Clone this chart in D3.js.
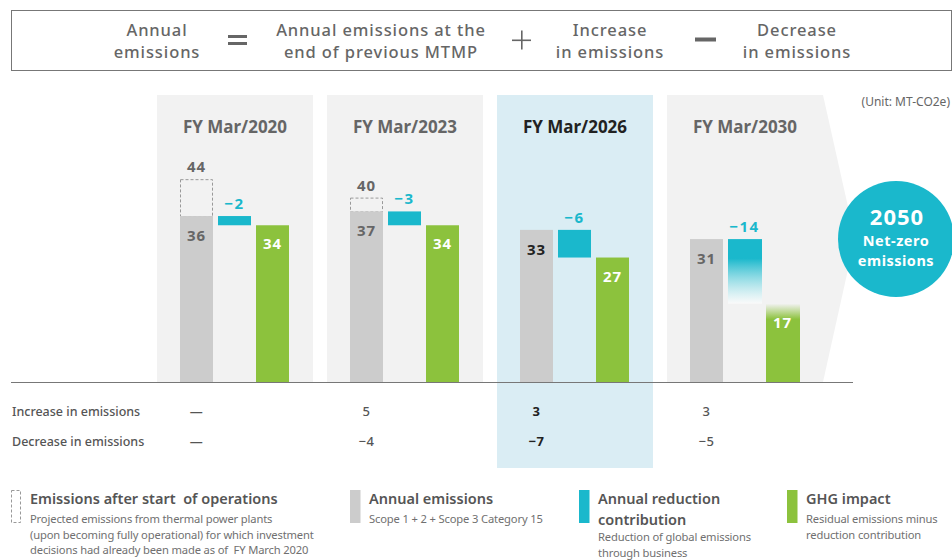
<!DOCTYPE html>
<html>
<head>
<meta charset="utf-8">
<script src="https://cdn.jsdelivr.net/npm/d3@7"></script>
<style>
  body { margin: 0; background: #fff; }
  svg { display: block; font-family: "Noto Sans", "Open Sans", sans-serif; }
</style>
</head>
<body>
<svg id="chart" width="952" height="560"></svg>
<script>
// data (MT-CO2e)
const periods = ["FY Mar/2020", "FY Mar/2023", "FY Mar/2026", "FY Mar/2030"];
const annualEmissions = [36, 37, 33, 31];
const afterStartEmissions = [44, 40, null, null];
const reductionContribution = [-2, -3, -6, -14];
const ghgImpact = [34, 34, 27, 17];
const increaseInEmissions = [null, 5, 3, 3];
const decreaseInEmissions = [null, -4, -7, -5];
const currentPeriod = "FY Mar/2026";

const formulaTerms = [
  ["Annual", "emissions"],
  ["Annual emissions at the", "end of previous MTMP"],
  ["Increase", "in emissions"],
  ["Decrease", "in emissions"]
];
const legendItems = [
  { key: "after", title: ["Emissions after start  of operations"],
    desc: ["Projected emissions from thermal power plants", "(upon becoming fully operational) for which investment", "decisions had already been made as of  FY March 2020"] },
  { key: "annual", title: ["Annual emissions"], desc: ["Scope 1 + 2 + Scope 3 Category 15"] },
  { key: "reduction", title: ["Annual reduction", "contribution"], desc: ["Reduction of global emissions", "through business"] },
  { key: "ghg", title: ["GHG impact"], desc: ["Residual emissions minus", "reduction contribution"] }
];

const GRAY = "#cccccc", TEAL = "#1ab8cc", GREEN = "#8cc23d", PANEL = "#f2f2f2", PANEL_CUR = "#daedf4";
const TXT = "#666", DARK = "#222";
const fmt = v => v == null ? "—" : (v < 0 ? "−" + Math.abs(v) : String(v));

const svg = d3.select("#chart");
const defs = svg.append("defs");

const baseY = 382, panelTop = 95;
const y = d3.scaleLinear().domain([0, 50]).range([baseY, baseY - 230.5]);
const x = d3.scaleBand().domain(periods).range([157, 823]).paddingInner(14 / 170).paddingOuter(0);
const xs = d3.scaleBand().domain(["annual", "reduction", "ghg"]).range([23, 132]).paddingInner(5 / 38).paddingOuter(0);
const bw = xs.bandwidth();

// gradients for the 2030 target
const gBlue = defs.append("linearGradient").attr("id", "fadeBlue").attr("x1", 0).attr("x2", 0).attr("y1", 0).attr("y2", 1);
gBlue.append("stop").attr("offset", "0%").attr("stop-color", TEAL);
gBlue.append("stop").attr("offset", "30%").attr("stop-color", TEAL);
gBlue.append("stop").attr("offset", "100%").attr("stop-color", "#fff").attr("stop-opacity", 0.6);
const gGreen = defs.append("linearGradient").attr("id", "fadeGreen").attr("x1", 0).attr("x2", 0).attr("y1", 0).attr("y2", 1);
gGreen.append("stop").attr("offset", "0%").attr("stop-color", GREEN).attr("stop-opacity", 0);
gGreen.append("stop").attr("offset", "20%").attr("stop-color", GREEN);
gGreen.append("stop").attr("offset", "100%").attr("stop-color", GREEN);

// formula box
svg.append("rect").attr("x", 11.5).attr("y", 10.5).attr("width", 940).attr("height", 60)
  .attr("fill", "none").attr("stroke", "#777").attr("stroke-width", 1);
const termX = [157, 381, 610, 797];
formulaTerms.forEach((lines, i) => {
  const t = svg.append("text").attr("text-anchor", "middle").attr("fill", TXT)
    .attr("font-size", 16.5).attr("font-weight", 500).attr("letter-spacing", 0.9);
  lines.forEach((l, j) => t.append("tspan").attr("x", termX[i]).attr("y", 36 + j * 21.5).text(l));
});
// operators
svg.append("rect").attr("x", 228).attr("y", 35).attr("width", 19).attr("height", 3).attr("fill", TXT);
svg.append("rect").attr("x", 228).attr("y", 42).attr("width", 19).attr("height", 3).attr("fill", TXT);
svg.append("rect").attr("x", 512).attr("y", 39.5).attr("width", 19).attr("height", 1.6).attr("fill", TXT);
svg.append("rect").attr("x", 521).attr("y", 30.5).attr("width", 1.6).attr("height", 19).attr("fill", TXT);
svg.append("rect").attr("x", 695).attr("y", 37.5).attr("width", 21).attr("height", 4).attr("fill", TXT);

// unit
svg.append("text").attr("x", 950).attr("y", 106).attr("text-anchor", "end")
  .attr("font-size", 12).attr("fill", TXT).text("(Unit: MT-CO2e)");

// panels
periods.forEach((p, i) => {
  const x0 = x(p), x1 = x0 + x.bandwidth();
  if (p === currentPeriod) {
    svg.append("rect").attr("x", x0).attr("y", panelTop).attr("width", x.bandwidth())
      .attr("height", 468 - panelTop).attr("fill", PANEL_CUR);
  } else if (i === periods.length - 1) {
    const tipY = 238;
    svg.append("path").attr("fill", PANEL)
      .attr("d", `M${x0},${panelTop}H${x1}L${x1 + 32},${tipY}L${x1},${baseY}H${x0}Z`);
  } else {
    svg.append("rect").attr("x", x0).attr("y", panelTop).attr("width", x.bandwidth())
      .attr("height", baseY - panelTop).attr("fill", PANEL);
  }
});

const panels = svg.selectAll("g.panel").data(periods).join("g")
  .attr("class", "panel").attr("transform", p => `translate(${x(p)},0)`);

panels.append("text").attr("x", x.bandwidth() / 2).attr("y", 133).attr("text-anchor", "middle")
  .attr("font-size", 17).attr("font-weight", 700)
  .attr("fill", p => p === currentPeriod ? DARK : TXT).text(p => p);

panels.each(function (p, i) {
  const g = d3.select(this);
  const cur = p === currentPeriod;
  const last = i === periods.length - 1;
  const a = annualEmissions[i], r = reductionContribution[i], h = ghgImpact[i], s = afterStartEmissions[i];

  // dashed "after start of operations" box
  if (s != null) {
    g.append("rect").attr("x", xs("annual") + 0.5).attr("y", y(s) + 0.5).attr("width", bw - 1)
      .attr("height", y(a) - y(s)).attr("fill", "none").attr("stroke", "#999")
      .attr("stroke-width", 1).attr("stroke-dasharray", "3,2");
    g.append("text").attr("x", xs("annual") + bw / 2).attr("y", y(s) - 7).attr("text-anchor", "middle")
      .attr("font-size", 15).attr("font-weight", 700).attr("fill", TXT).attr("letter-spacing", 1).text(s);
  }
  // annual emissions bar
  g.append("rect").attr("x", xs("annual")).attr("y", y(a)).attr("width", bw)
    .attr("height", baseY - y(a)).attr("fill", GRAY);
  g.append("text").attr("x", xs("annual") + bw / 2).attr("y", y(a) + 25).attr("text-anchor", "middle")
    .attr("font-size", 15).attr("font-weight", 700).attr("letter-spacing", 1)
    .attr("fill", cur ? DARK : TXT).text(a);
  // reduction contribution (floating)
  g.append("rect").attr("x", xs("reduction")).attr("y", y(h - r)).attr("width", last ? bw + 1 : bw)
    .attr("height", y(h) - y(h - r)).attr("fill", last ? "url(#fadeBlue)" : TEAL);
  g.append("text").attr("x", xs("reduction") + bw / 2).attr("y", y(h - r) - 7).attr("text-anchor", "middle")
    .attr("font-size", 15).attr("font-weight", 700).attr("letter-spacing", 1.5)
    .attr("fill", TEAL).text(fmt(r));
  // GHG impact
  g.append("rect").attr("x", xs("ghg")).attr("y", y(h)).attr("width", last ? bw + 1 : bw)
    .attr("height", baseY - y(h)).attr("fill", last ? "url(#fadeGreen)" : GREEN);
  g.append("text").attr("x", xs("ghg") + bw / 2).attr("y", y(h) + 24).attr("text-anchor", "middle")
    .attr("font-size", 15).attr("font-weight", 700).attr("letter-spacing", 1)
    .attr("fill", "#fff").text(h);

  // table values
  [increaseInEmissions[i], decreaseInEmissions[i]].forEach((v, j) => {
    g.append("text").attr("x", xs("annual") + bw / 2).attr("y", 416 + j * 30).attr("text-anchor", "middle")
      .attr("font-size", 13).attr("font-weight", cur ? 700 : 500).attr("letter-spacing", 0.5)
      .attr("fill", cur ? DARK : "#555").text(fmt(v));
  });
});

// baseline
svg.append("line").attr("x1", 11).attr("x2", 853).attr("y1", baseY + 0.5).attr("y2", baseY + 0.5)
  .attr("stroke", "#777").attr("stroke-width", 1);

// table row labels
["Increase in emissions", "Decrease in emissions"].forEach((l, j) => {
  svg.append("text").attr("x", 12).attr("y", 416 + j * 30).attr("font-size", 12.5).attr("font-weight", 500)
    .attr("fill", "#555").text(l);
});

// 2050 circle
svg.append("circle").attr("cx", 896).attr("cy", 239).attr("r", 58).attr("fill", TEAL);
svg.append("text").attr("x", 897).attr("y", 225).attr("text-anchor", "middle").attr("fill", "#fff")
  .attr("font-size", 22).attr("font-weight", 700).attr("letter-spacing", 1).text("2050");
[["Net-zero", 246], ["emissions", 266]].forEach(([t, yy]) => {
  svg.append("text").attr("x", 896).attr("y", yy).attr("text-anchor", "middle").attr("fill", "#fff")
    .attr("font-size", 14.5).attr("font-weight", 700).attr("letter-spacing", 0.5).text(t);
});

// legend
const legX = [11, 350, 579, 787];
const legend = svg.selectAll("g.leg").data(legendItems).join("g")
  .attr("class", "leg").attr("transform", (d, i) => `translate(${legX[i]},490)`);
legend.each(function (d) {
  const g = d3.select(this);
  if (d.key === "after") {
    g.append("rect").attr("x", 0.5).attr("y", 0.5).attr("width", 9).attr("height", 32)
      .attr("fill", "none").attr("stroke", "#999").attr("stroke-dasharray", "3,2");
  } else {
    g.append("rect").attr("x", 0).attr("y", 0).attr("width", 10.5).attr("height", 33)
      .attr("fill", d.key === "annual" ? GRAY : d.key === "reduction" ? TEAL : GREEN);
  }
  const tx = 19;
  d.title.forEach((t, j) => {
    g.append("text").attr("x", tx).attr("y", 14 + j * 21).attr("font-size", 14.5).attr("font-weight", 600)
      .attr("fill", "#555").style("white-space", "pre").text(t);
  });
  const dy0 = 14 + (d.title.length - 1) * 21 + (d.key === "reduction" ? 16 : 19);
  const lh = 15.5;
  d.desc.forEach((t, j) => {
    g.append("text").attr("x", tx).attr("y", dy0 + j * lh).attr("font-size", 11.2)
      .attr("letter-spacing", -0.15).attr("fill", "#707070").style("white-space", "pre").text(t);
  });
});
</script>
</body>
</html>
